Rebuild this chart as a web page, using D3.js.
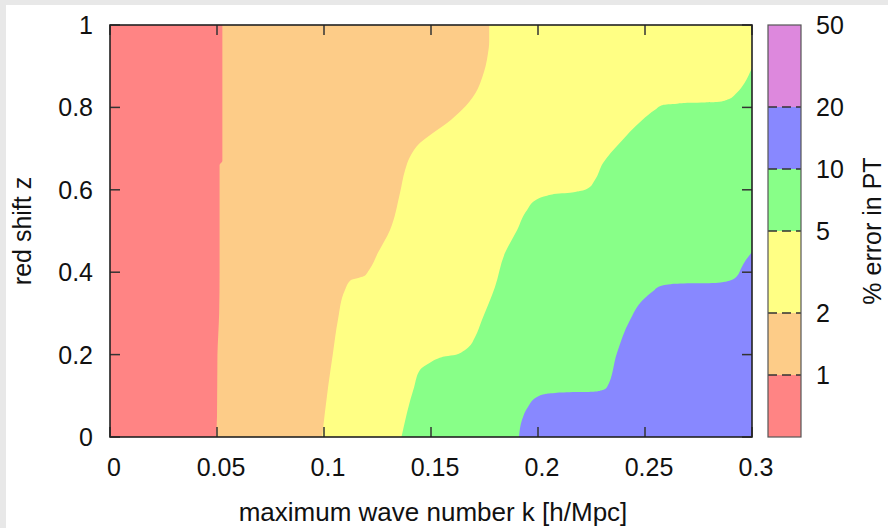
<!DOCTYPE html>
<html>
<head>
<meta charset="utf-8">
<script src="https://cdn.jsdelivr.net/npm/d3@7"></script>
<style>
  body { margin: 0; background: #e8e8e8; }
  svg { display: block; }
  text { font-family: "Liberation Sans", Arial, sans-serif; fill: #111; }
</style>
</head>
<body>
<div id="chart"></div>
<script>
// boundaries between error bands, k (h/Mpc) as function of z
const redOrangeZ = [0, 0.05, 0.2, 0.25, 0.3, 0.4, 0.66, 0.67, 1];
const redOrangeK = [0.0495, 0.05, 0.0502, 0.0506, 0.051, 0.0512, 0.0512, 0.0525, 0.0525];

const orangeYellowZ = [0, 0.121, 0.204, 0.284, 0.357, 0.381, 0.386, 0.39, 0.405, 0.447, 0.502, 0.592, 0.648, 0.68, 0.714, 0.738, 0.762, 0.794, 0.835, 0.874, 0.9, 0.93, 0.96, 1];
const orangeYellowK = [0.0991, 0.1019, 0.1042, 0.1065, 0.1098, 0.1126, 0.116, 0.1185, 0.121, 0.1252, 0.1308, 0.1355, 0.1379, 0.1402, 0.1449, 0.1509, 0.1575, 0.1645, 0.1708, 0.174, 0.1755, 0.1766, 0.1772, 0.1772];

// past k = 0.3 the band leaves the plot and is clipped
const yellowGreenZ = [0, 0.121, 0.163, 0.18, 0.19, 0.196, 0.199, 0.208, 0.218, 0.243, 0.284, 0.364, 0.447, 0.502, 0.551, 0.575, 0.585, 0.591, 0.593, 0.597, 0.604, 0.624, 0.665, 0.714, 0.769, 0.794, 0.806, 0.809, 0.811, 0.812, 0.813, 0.82, 0.835, 0.859, 0.895, 0.92, 1];
const yellowGreenK = [0.1362, 0.1421, 0.1449, 0.1495, 0.153, 0.157, 0.1612, 0.165, 0.1675, 0.1706, 0.1738, 0.1799, 0.1846, 0.1902, 0.1949, 0.199, 0.2037, 0.21, 0.215, 0.2196, 0.2234, 0.2266, 0.2304, 0.2383, 0.2486, 0.2547, 0.2584, 0.265, 0.271, 0.278, 0.2836, 0.289, 0.2928, 0.2965, 0.3, 0.303, 0.303];

const greenBlueZ = [0, 0.041, 0.073, 0.097, 0.104, 0.107, 0.109, 0.11, 0.113, 0.121, 0.204, 0.284, 0.333, 0.355, 0.366, 0.371, 0.373, 0.374, 0.378, 0.388, 0.41, 0.43, 0.449, 0.47, 1];
const greenBlueK = [0.1911, 0.1925, 0.1953, 0.1995, 0.203, 0.208, 0.218, 0.226, 0.2295, 0.2322, 0.2369, 0.243, 0.2491, 0.254, 0.257, 0.262, 0.272, 0.283, 0.2885, 0.2925, 0.295, 0.2972, 0.3, 0.303, 0.303];

// colour box
const levels = [0.5, 1, 2, 5, 10, 20, 50];
const levelColors = ["#ff8484", "#fdcc88", "#ffff84", "#88ff88", "#8888ff", "#dd88dd"];
const cbTicks = [1, 2, 5, 10, 20, 50];

const xTicks = [0, 0.05, 0.1, 0.15, 0.2, 0.25, 0.3];
const yTicks = [0, 0.2, 0.4, 0.6, 0.8, 1];

const width = 888, height = 528;
const plot = { left: 110, right: 752, top: 25, bottom: 437 };
const cb = { left: 768, right: 801 };

const svg = d3.select("#chart").append("svg")
  .attr("width", width).attr("height", height);

svg.append("rect").attr("x", 6).attr("y", 5)
  .attr("width", width - 6).attr("height", height - 5).attr("fill", "#fff");

const x = d3.scaleLinear().domain([0, 0.3]).range([plot.left, plot.right]);
const y = d3.scaleLinear().domain([0, 1]).range([plot.bottom, plot.top]);

svg.append("clipPath").attr("id", "clip").append("rect")
  .attr("x", plot.left).attr("y", plot.top)
  .attr("width", plot.right - plot.left).attr("height", plot.bottom - plot.top);

const bands = [
  { z: [0, 1], k: [0, 0], color: levelColors[0] },
  { z: redOrangeZ, k: redOrangeK, color: levelColors[1] },
  { z: orangeYellowZ, k: orangeYellowK, color: levelColors[2] },
  { z: yellowGreenZ, k: yellowGreenK, color: levelColors[3] },
  { z: greenBlueZ, k: greenBlueK, color: levelColors[4] },
];

const area = d3.area()
  .curve(d3.curveMonotoneY)
  .y((d) => y(d.z))
  .x0((d) => x(d.k))
  .x1(x(0.31));

const g = svg.append("g").attr("clip-path", "url(#clip)");
bands.forEach((b) => {
  const pts = b.z.map((z, i) => ({ z, k: b.k[i] }));
  g.append("path").attr("d", area(pts)).attr("fill", b.color);
});

// axes, ticks pointing inward on all four sides
const tickLen = 10;
const axisG = svg.append("g").attr("stroke", "#333").attr("stroke-width", 1.5);
xTicks.forEach((t) => {
  axisG.append("line").attr("x1", x(t)).attr("x2", x(t))
    .attr("y1", plot.bottom).attr("y2", plot.bottom - tickLen);
  axisG.append("line").attr("x1", x(t)).attr("x2", x(t))
    .attr("y1", plot.top).attr("y2", plot.top + tickLen);
});
yTicks.forEach((t) => {
  axisG.append("line").attr("x1", plot.left).attr("x2", plot.left + tickLen)
    .attr("y1", y(t)).attr("y2", y(t));
  axisG.append("line").attr("x1", plot.right).attr("x2", plot.right - tickLen)
    .attr("y1", y(t)).attr("y2", y(t));
});
svg.append("rect")
  .attr("x", plot.left).attr("y", plot.top)
  .attr("width", plot.right - plot.left).attr("height", plot.bottom - plot.top)
  .attr("fill", "none").attr("stroke", "#222").attr("stroke-width", 1.6);

const fs = 25;
svg.append("g").selectAll("text").data(xTicks).join("text")
  .attr("x", (d) => x(d) + 4).attr("y", 476)
  .attr("text-anchor", "middle").attr("font-size", fs)
  .text((d) => d3.format("~g")(d));

svg.append("g").selectAll("text").data(yTicks).join("text")
  .attr("x", 93).attr("y", (d) => y(d) + 9)
  .attr("text-anchor", "end").attr("font-size", fs)
  .text((d) => d3.format("~g")(d));

svg.append("text")
  .attr("x", 433).attr("y", 521)
  .attr("text-anchor", "middle").attr("font-size", 26)
  .text("maximum wave number k [h/Mpc]");

svg.append("text")
  .attr("transform", `translate(31,${(plot.top + plot.bottom) / 2}) rotate(-90)`)
  .attr("text-anchor", "middle").attr("font-size", fs)
  .text("red shift z");

// colour box on a log scale
const c = d3.scaleLog().domain([0.5, 50]).range([plot.bottom, plot.top]);
d3.pairs(levels).forEach(([lo, hi], i) => {
  svg.append("rect")
    .attr("x", cb.left).attr("y", c(hi))
    .attr("width", cb.right - cb.left).attr("height", c(lo) - c(hi))
    .attr("fill", levelColors[i]);
});
levels.slice(1, -1).forEach((v) => {
  svg.append("line")
    .attr("x1", cb.left).attr("x2", cb.right)
    .attr("y1", c(v)).attr("y2", c(v))
    .attr("stroke", "#333").attr("stroke-width", 1.5)
    .attr("stroke-dasharray", "9,5");
});
svg.append("rect")
  .attr("x", cb.left).attr("y", plot.top)
  .attr("width", cb.right - cb.left).attr("height", plot.bottom - plot.top)
  .attr("fill", "none").attr("stroke", "#555").attr("stroke-width", 1.2);

svg.append("g").selectAll("text").data(cbTicks).join("text")
  .attr("x", 816).attr("y", (d) => c(d) + 9)
  .attr("font-size", fs)
  .text((d) => d);

svg.append("text")
  .attr("transform", `translate(881,${(plot.top + plot.bottom) / 2}) rotate(-90)`)
  .attr("text-anchor", "middle").attr("font-size", fs)
  .text("% error in PT");
</script>
</body>
</html>
